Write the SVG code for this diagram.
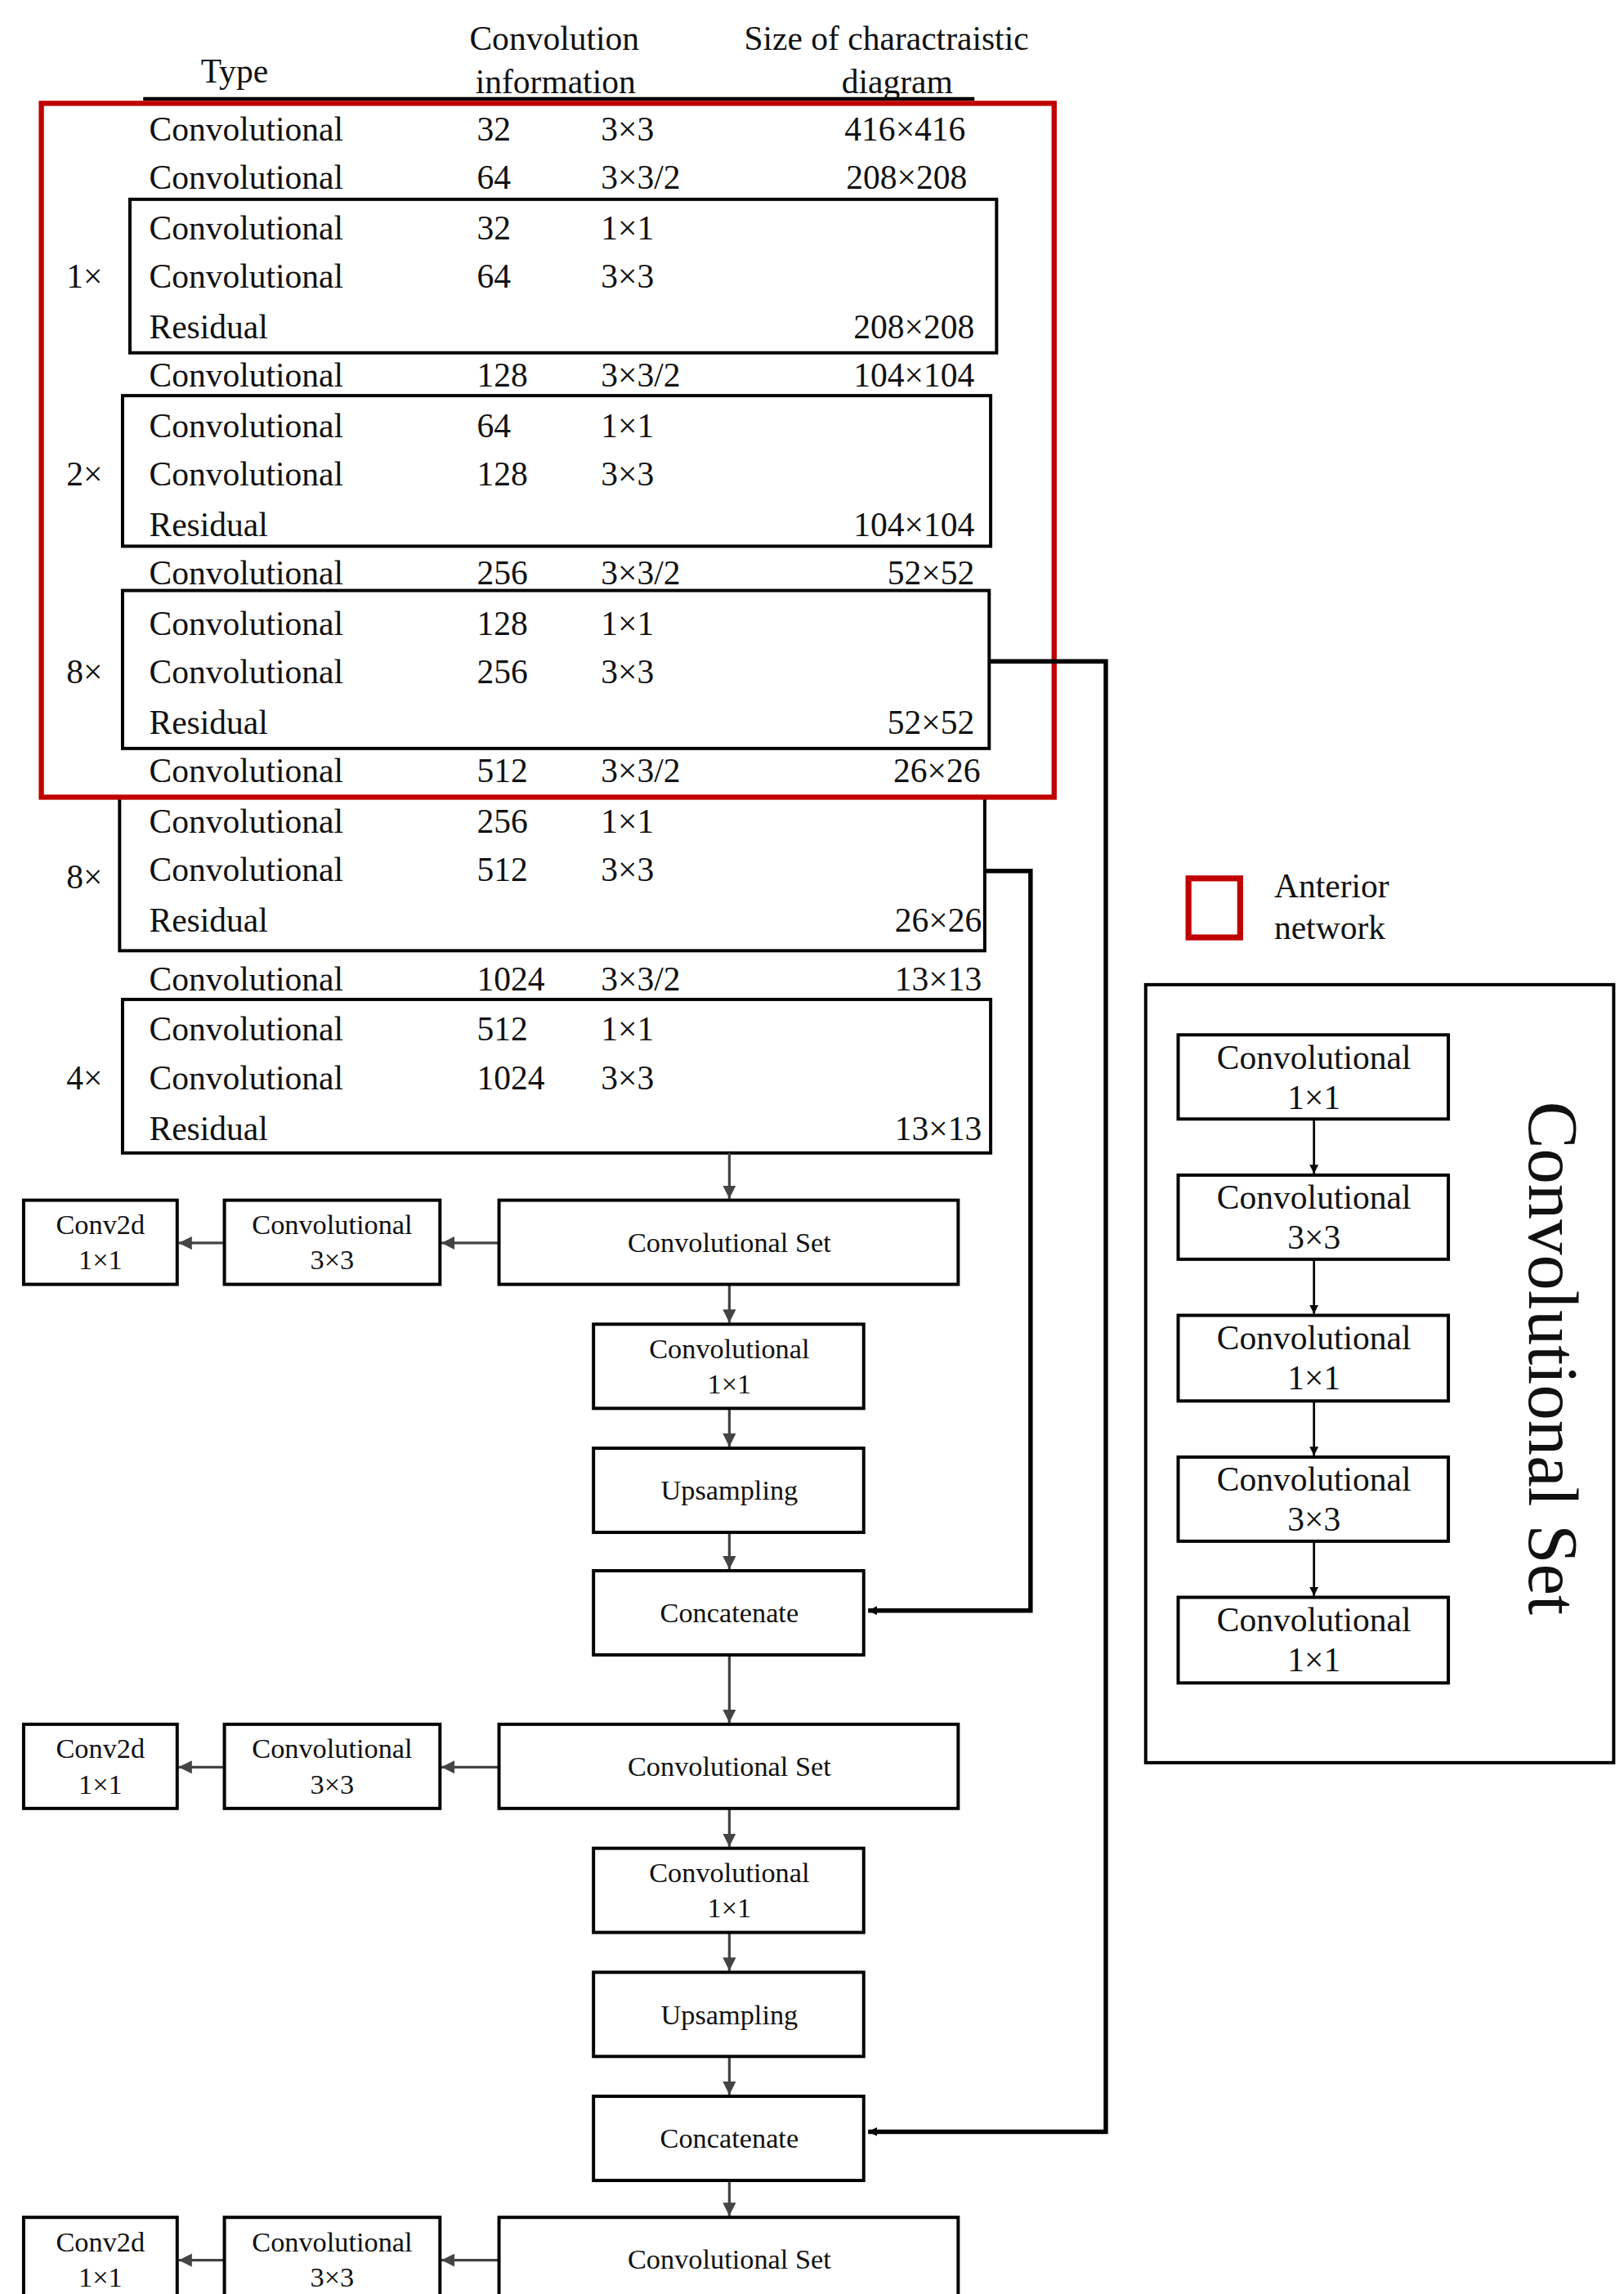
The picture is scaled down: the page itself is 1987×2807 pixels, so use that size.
<svg xmlns="http://www.w3.org/2000/svg" width="1987" height="2807" viewBox="0 0 1987 2807">
<defs>
<style>
text{font-family:"Liberation Serif","DejaVu Serif",serif;fill:#111}
.t{font-size:23px}
.b{font-size:19px;text-anchor:middle}
.c{font-size:23px;text-anchor:middle}
.r{text-anchor:end}
.box{fill:none;stroke:#000;stroke-width:2.2}
.fl{stroke:#444;stroke-width:1.8;fill:none}
.thick{stroke:#000;stroke-width:3;fill:none}
</style>
<marker id="ag" viewBox="0 0 10 10" refX="10" refY="5" markerWidth="5" markerHeight="5" orient="auto"><path d="M0,0L10,5L0,10z" fill="#444"/></marker>
<marker id="ak" viewBox="0 0 10 10" refX="10" refY="5" markerWidth="8" markerHeight="6" markerUnits="userSpaceOnUse" orient="auto"><path d="M0,0L10,5L0,10z" fill="#000"/></marker>
<marker id="ab" viewBox="0 0 10 10" refX="10" refY="5" markerWidth="4" markerHeight="4" orient="auto"><path d="M0,0L10,5L0,10z" fill="#000"/></marker>
</defs>
<rect width="1987" height="2807" fill="#fff"/>
<g transform="scale(1.8064)">
<g id="table">
<text class="t" x="136" y="56">Type</text>
<text class="t" x="318" y="34">Convolution</text>
<text class="t" x="322" y="63">information</text>
<text class="t" x="504" y="34">Size of charactraistic</text>
<text class="t" x="570" y="63">diagram</text>
<line x1="97" y1="67" x2="660" y2="67" stroke="#000" stroke-width="2.5"/>
<g class="t">
<text x="101" y="95">Convolutional</text><text x="323" y="95">32</text><text x="407" y="95">3×3</text><text class="r" x="654" y="95">416×416</text>
<text x="101" y="128">Convolutional</text><text x="323" y="128">64</text><text x="407" y="128">3×3/2</text><text class="r" x="655" y="128">208×208</text>
<text x="101" y="162">Convolutional</text><text x="323" y="162">32</text><text x="407" y="162">1×1</text>
<text x="101" y="195">Convolutional</text><text x="323" y="195">64</text><text x="407" y="195">3×3</text>
<text x="101" y="229">Residual</text><text class="r" x="660" y="229">208×208</text>
<text x="101" y="262">Convolutional</text><text x="323" y="262">128</text><text x="407" y="262">3×3/2</text><text class="r" x="660" y="262">104×104</text>
<text x="101" y="296">Convolutional</text><text x="323" y="296">64</text><text x="407" y="296">1×1</text>
<text x="101" y="329">Convolutional</text><text x="323" y="329">128</text><text x="407" y="329">3×3</text>
<text x="101" y="363">Residual</text><text class="r" x="660" y="363">104×104</text>
<text x="101" y="396">Convolutional</text><text x="323" y="396">256</text><text x="407" y="396">3×3/2</text><text class="r" x="660" y="396">52×52</text>
<text x="101" y="430">Convolutional</text><text x="323" y="430">128</text><text x="407" y="430">1×1</text>
<text x="101" y="463">Convolutional</text><text x="323" y="463">256</text><text x="407" y="463">3×3</text>
<text x="101" y="497">Residual</text><text class="r" x="660" y="497">52×52</text>
<text x="101" y="530">Convolutional</text><text x="323" y="530">512</text><text x="407" y="530">3×3/2</text><text class="r" x="664" y="530">26×26</text>
<text x="101" y="564">Convolutional</text><text x="323" y="564">256</text><text x="407" y="564">1×1</text>
<text x="101" y="597">Convolutional</text><text x="323" y="597">512</text><text x="407" y="597">3×3</text>
<text x="101" y="631">Residual</text><text class="r" x="665" y="631">26×26</text>
<text x="101" y="671">Convolutional</text><text x="323" y="671">1024</text><text x="407" y="671">3×3/2</text><text class="r" x="665" y="671">13×13</text>
<text x="101" y="705">Convolutional</text><text x="323" y="705">512</text><text x="407" y="705">1×1</text>
<text x="101" y="738">Convolutional</text><text x="323" y="738">1024</text><text x="407" y="738">3×3</text>
<text x="101" y="772">Residual</text><text class="r" x="665" y="772">13×13</text>
<text x="45" y="195" fill="#333">1×</text>
<text x="45" y="329" fill="#333">2×</text>
<text x="45" y="463" fill="#333">8×</text>
<text x="45" y="602" fill="#333">8×</text>
<text x="45" y="738" fill="#333">4×</text>
</g>
<rect class="box" x="88" y="135" width="587" height="104"/>
<rect class="box" x="83" y="268" width="588" height="102"/>
<rect class="box" x="83" y="400" width="587" height="107"/>
<rect class="box" x="81" y="540" width="586" height="104"/>
<rect class="box" x="83" y="677" width="588" height="104"/>
<rect x="28" y="70" width="686" height="470" fill="none" stroke="#c00000" stroke-width="3.5"/>
</g>
<g id="connectors">
<polyline class="thick" points="670,448 749,448 749,1444 588,1444" marker-end="url(#ak)"/>
<polyline class="thick" points="667,590 698,590 698,1091 588,1091" marker-end="url(#ak)"/>
<line class="fl" x1="494" y1="781" x2="494" y2="812" marker-end="url(#ag)"/>
<line class="fl" x1="494" y1="870" x2="494" y2="896" marker-end="url(#ag)"/>
<line class="fl" x1="494" y1="954" x2="494" y2="980" marker-end="url(#ag)"/>
<line class="fl" x1="494" y1="1038" x2="494" y2="1063" marker-end="url(#ag)"/>
<line class="fl" x1="494" y1="1121" x2="494" y2="1167" marker-end="url(#ag)"/>
<line class="fl" x1="494" y1="1225" x2="494" y2="1251" marker-end="url(#ag)"/>
<line class="fl" x1="494" y1="1309" x2="494" y2="1335" marker-end="url(#ag)"/>
<line class="fl" x1="494" y1="1393" x2="494" y2="1419" marker-end="url(#ag)"/>
<line class="fl" x1="494" y1="1477" x2="494" y2="1501" marker-end="url(#ag)"/>
<line class="fl" x1="338" y1="842" x2="299" y2="842" marker-end="url(#ag)"/>
<line class="fl" x1="152" y1="842" x2="121" y2="842" marker-end="url(#ag)"/>
<line class="fl" x1="338" y1="1197" x2="299" y2="1197" marker-end="url(#ag)"/>
<line class="fl" x1="152" y1="1197" x2="121" y2="1197" marker-end="url(#ag)"/>
<line class="fl" x1="338" y1="1531" x2="299" y2="1531" marker-end="url(#ag)"/>
<line class="fl" x1="152" y1="1531" x2="121" y2="1531" marker-end="url(#ag)"/>
<line x1="890" y1="758" x2="890" y2="795" stroke="#000" stroke-width="1.5" marker-end="url(#ab)"/>
<line x1="890" y1="853" x2="890" y2="890" stroke="#000" stroke-width="1.5" marker-end="url(#ab)"/>
<line x1="890" y1="949" x2="890" y2="986" stroke="#000" stroke-width="1.5" marker-end="url(#ab)"/>
<line x1="890" y1="1044" x2="890" y2="1081" stroke="#000" stroke-width="1.5" marker-end="url(#ab)"/>
</g>
<g id="set1"><rect class="box" x="338" y="813" width="311" height="57"/><text class="b" x="494" y="848">Convolutional Set</text></g>
<g id="c33a"><rect class="box" x="152" y="813" width="146" height="57"/><text class="b" x="225" y="836">Convolutional</text><text class="b" x="225" y="860">3×3</text></g>
<g id="c2da"><rect class="box" x="16" y="813" width="104" height="57"/><text class="b" x="68" y="836">Conv2d</text><text class="b" x="68" y="860">1×1</text></g>
<g id="c11a"><rect class="box" x="402" y="897" width="183" height="57"/><text class="b" x="494" y="920">Convolutional</text><text class="b" x="494" y="944">1×1</text></g>
<g id="upa"><rect class="box" x="402" y="981" width="183" height="57"/><text class="b" x="494" y="1016">Upsampling</text></g>
<g id="cata"><rect class="box" x="402" y="1064" width="183" height="57"/><text class="b" x="494" y="1099">Concatenate</text></g>
<g id="set2"><rect class="box" x="338" y="1168" width="311" height="57"/><text class="b" x="494" y="1203">Convolutional Set</text></g>
<g id="c33b"><rect class="box" x="152" y="1168" width="146" height="57"/><text class="b" x="225" y="1191">Convolutional</text><text class="b" x="225" y="1215">3×3</text></g>
<g id="c2db"><rect class="box" x="16" y="1168" width="104" height="57"/><text class="b" x="68" y="1191">Conv2d</text><text class="b" x="68" y="1215">1×1</text></g>
<g id="c11b"><rect class="box" x="402" y="1252" width="183" height="57"/><text class="b" x="494" y="1275">Convolutional</text><text class="b" x="494" y="1299">1×1</text></g>
<g id="upb"><rect class="box" x="402" y="1336" width="183" height="57"/><text class="b" x="494" y="1371">Upsampling</text></g>
<g id="catb"><rect class="box" x="402" y="1420" width="183" height="57"/><text class="b" x="494" y="1455">Concatenate</text></g>
<g id="set3"><rect class="box" x="338" y="1502" width="311" height="57"/><text class="b" x="494" y="1537">Convolutional Set</text></g>
<g id="c33c"><rect class="box" x="152" y="1502" width="146" height="57"/><text class="b" x="225" y="1525">Convolutional</text><text class="b" x="225" y="1549">3×3</text></g>
<g id="c2dc"><rect class="box" x="16" y="1502" width="104" height="57"/><text class="b" x="68" y="1525">Conv2d</text><text class="b" x="68" y="1549">1×1</text></g>
<g id="legend">
<rect x="805" y="595" width="35" height="40" fill="none" stroke="#c00000" stroke-width="4"/>
<text class="t" x="863" y="608">Anterior</text>
<text class="t" x="863" y="636">network</text>
</g>
<g id="setpanel">
<rect class="box" x="776" y="667" width="317" height="527"/>
<rect class="box" x="798" y="701" width="183" height="57"/><text class="c" x="890" y="724">Convolutional</text><text class="c" x="890" y="751">1×1</text>
<rect class="box" x="798" y="796" width="183" height="57"/><text class="c" x="890" y="819">Convolutional</text><text class="c" x="890" y="846">3×3</text>
<rect class="box" x="798" y="891" width="183" height="58"/><text class="c" x="890" y="914">Convolutional</text><text class="c" x="890" y="941">1×1</text>
<rect class="box" x="798" y="987" width="183" height="57"/><text class="c" x="890" y="1010">Convolutional</text><text class="c" x="890" y="1037">3×3</text>
<rect class="box" x="798" y="1082" width="183" height="58"/><text class="c" x="890" y="1105">Convolutional</text><text class="c" x="890" y="1132">1×1</text>
<text transform="translate(1036,920) rotate(90)" text-anchor="middle" style="font-size:48px">Convolutional Set</text>
</g>
</g>
</svg>
